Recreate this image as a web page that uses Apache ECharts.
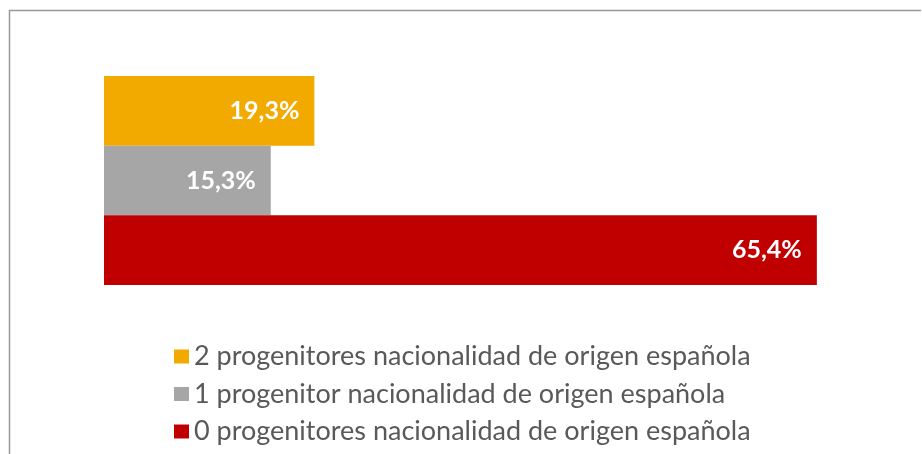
<!DOCTYPE html>
<html>
<head>
<meta charset="utf-8">
<script src="https://cdn.jsdelivr.net/npm/echarts@6/dist/echarts.min.js"></script>
<style>
  html, body { margin: 0; padding: 0; background: #fff; }
  #chart { width: 922px; height: 454px; }
</style>
</head>
<body>
<div id="chart"></div>
<script>
// categories, top to bottom
const categories = ['2', '1', '0'];
const seriesNames = [
  '2 progenitores nacionalidad de origen española',
  '1 progenitor nacionalidad de origen española',
  '0 progenitores nacionalidad de origen española'
];
const values = [19.3, 15.3, 65.4];
const colors = ['#f2a900', '#a6a6a6', '#c00000'];

const chart = echarts.init(document.getElementById('chart'));

// each series fills only its own row, stacked so the bars share one band
const series = seriesNames.map((name, i) => ({
  name: name,
  type: 'bar',
  stack: 'all',
  barCategoryGap: '0%',
  data: categories.map((c, j) => (j === i ? values[i] : '-')),
  itemStyle: { color: colors[i] },
  label: {
    show: true,
    position: 'insideRight',
    distance: 15,
    color: '#fff',
    fontFamily: 'Lato',
    fontWeight: 'bold',
    fontSize: 25,
    formatter: p => p.value.toFixed(1).replace('.', ',') + '%'
  }
}));

const option = {
  animation: false,
  backgroundColor: '#fff',
  grid: { left: 104, top: 76, height: 209, width: 763 },
  xAxis: {
    type: 'value',
    min: 0,
    max: 70,
    show: false
  },
  yAxis: {
    type: 'category',
    data: categories,
    inverse: true,
    show: false
  },
  legend: {
    orient: 'vertical',
    left: 169,
    top: 338,
    itemWidth: 15,
    itemHeight: 14,
    itemGap: 10.5,
    icon: 'rect',
    textStyle: { color: '#595959', fontFamily: 'Lato', fontSize: 27, padding: [0, 0, 0, 0] },
    data: seriesNames
  },
  graphic: [{
    type: 'polyline',
    shape: { points: [[9.5, 454], [9.5, 10.5], [921, 10.5]] },
    style: { stroke: '#999', lineWidth: 1.5, fill: null },
    silent: true
  }],
  series: series
};

chart.setOption(option);
</script>
</body>
</html>
